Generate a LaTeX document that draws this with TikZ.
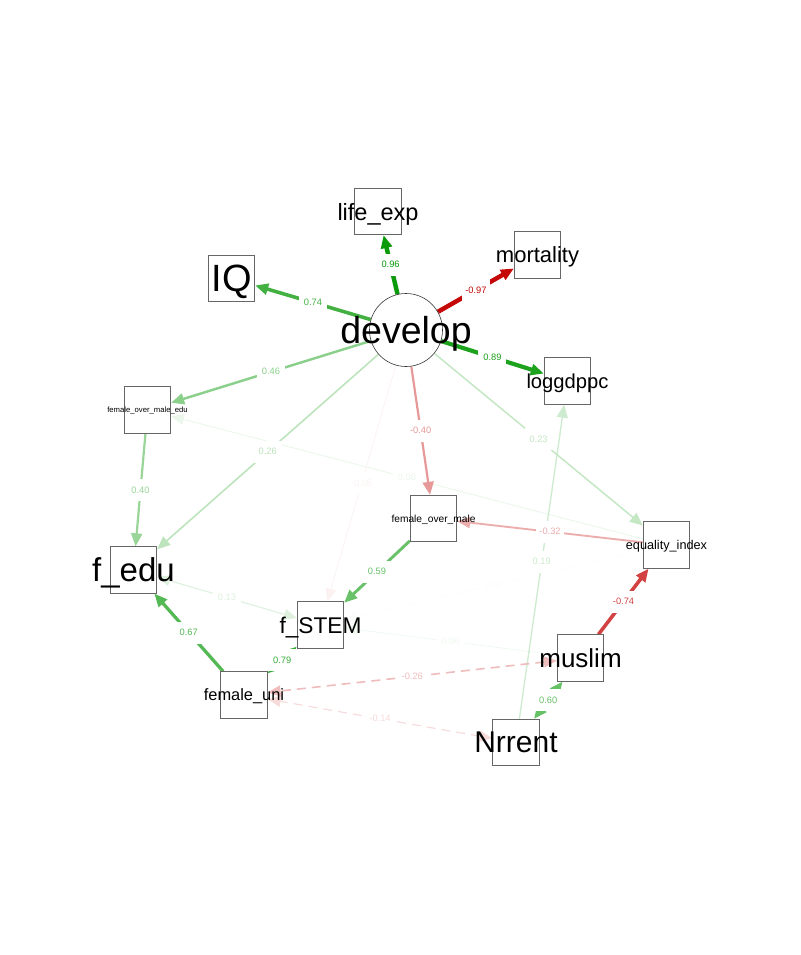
\documentclass[tikz,border=0pt]{standalone}
\usepackage{fontspec}
\setmainfont{Liberation Sans}
\usetikzlibrary{arrows.meta}
\definecolor{posc}{RGB}{0,150,0}
\definecolor{negc}{RGB}{195,0,0}
\pgfdeclarelayer{edges}
\pgfsetlayers{edges,main}

\begin{document}
\begin{tikzpicture}[x=1pt, y=-1pt,
	>={Triangle[length=13pt, width=11pt]},
	fsize/.style={font=\fontsize{#1}{#1}\selectfont},
	manifest/.style={draw=black!60, fill=white, line width=0.8pt,
		minimum size=46.5pt, inner sep=0pt, text depth=0pt},
	latent/.style={circle, draw=black!80, fill=white, line width=0.6pt,
		minimum size=73pt, inner sep=0pt, text depth=0pt},
	posedge/.style={color=posc!#1!white, line width={0.6pt+0.04pt*#1}},
	negedge/.style={color=negc!#1!white, line width={0.6pt+0.04pt*#1}},
	covdash/.style={dash pattern=on 9pt off 6pt},
	lab/.style={midway, fill=white, inner sep=0pt, minimum width=28pt,
		minimum height=22pt, fsize=9.3}]
\useasboundingbox (0,0) rectangle (800,955);

% variables
\node[latent, fsize=37.5] (develop) at (406,330) {\makebox[0pt]{develop}};
\node[manifest, fsize=23.5] (lifeexp) at (378,211.5) {\makebox[0pt]{life\_exp}};
\node[manifest, fsize=22] (mortality) at (537.5,255) {\makebox[0pt]{mortality}};
\node[manifest, fsize=38] (IQ) at (231.5,278.5) {\makebox[0pt]{IQ}};
\node[manifest, fsize=20.2] (loggdppc) at (567.5,381) {\makebox[0pt]{loggdppc}};
\node[manifest, fsize=7.7] (fomedu) at (147.5,410) {\makebox[0pt]{female\_over\_male\_edu}};
\node[manifest, fsize=10.2] (fom) at (433.5,518.5) {\makebox[0pt]{female\_over\_male}};
\node[manifest, fsize=12.7] (equality) at (666.5,545) {\makebox[0pt]{equality\_index}};
\node[manifest, fsize=33] (fedu) at (133.5,570) {\makebox[0pt]{f\_edu}};
\node[manifest, fsize=22.7] (fSTEM) at (320.5,625) {\makebox[0pt]{f\_STEM}};
\node[manifest, fsize=16.4] (femaleuni) at (244,695) {\makebox[0pt]{female\_uni}};
\node[manifest, fsize=26] (muslim) at (580.5,658) {\makebox[0pt]{muslim}};
\node[manifest, fsize=30] (Nrrent) at (516,742.5) {\makebox[0pt]{Nrrent}};

% paths, weakest first, kept under the variables
\begin{pgfonlayer}{edges}
\draw[posedge=2, ->] (equality) -- node[lab] {0.02} (fSTEM);
\draw[negedge=5, ->] (develop) -- node[lab] {-0.05} (fSTEM);
\draw[posedge=6, ->] (muslim) -- node[lab] {0.06} (fSTEM);
\draw[posedge=8, ->] (equality) -- node[lab] {0.08} (fomedu);
\draw[posedge=13, <->] (fedu) -- node[lab] {0.13} (fSTEM);
\draw[negedge=14, <->, covdash] (Nrrent) -- node[lab] {-0.14} (femaleuni);
\draw[posedge=19, ->] (Nrrent) -- node[lab] {0.19} (loggdppc);
\draw[posedge=23, ->] (develop) -- node[lab] {0.23} (equality);
\draw[posedge=26, ->] (develop) -- node[lab] {0.26} (fedu);
\draw[negedge=26, <->, covdash] (muslim) -- node[lab] {-0.26} (femaleuni);
\draw[negedge=32, ->] (equality) -- node[lab] {-0.32} (fom);
\draw[posedge=40, ->] (fomedu) -- node[lab] {0.40} (fedu);
\draw[negedge=40, ->] (develop) -- node[lab] {-0.40} (fom);
\draw[posedge=46, ->] (develop) -- node[lab] {0.46} (fomedu);
\draw[posedge=59, ->] (fom) -- node[lab] {0.59} (fSTEM);
\draw[posedge=60, <->] (Nrrent) -- node[lab] {0.60} (muslim);
\draw[posedge=67, ->] (femaleuni) -- node[lab] {0.67} (fedu);
\draw[posedge=74, ->] (develop) -- node[lab] {0.74} (IQ);
\draw[negedge=74, ->] (muslim) -- node[lab] {-0.74} (equality);
\draw[posedge=79, <->] (femaleuni) -- node[lab] {0.79} (fSTEM);
\draw[posedge=89, ->] (develop) -- node[lab] {0.89} (loggdppc);
\draw[posedge=96, ->] (develop) -- node[lab] {0.96} (lifeexp);
\draw[negedge=97, ->] (develop) -- node[lab] {-0.97} (mortality);
\end{pgfonlayer}
\end{tikzpicture}
\end{document}
